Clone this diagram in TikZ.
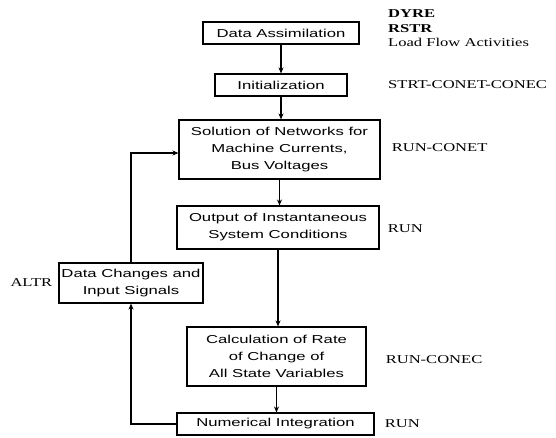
\documentclass[tikz,border=0pt]{standalone}
\usepackage{fontspec}
\setmainfont{Liberation Serif}
\newfontfamily\boxfont{Liberation Sans}[FakeStretch=1.45]
\newfontfamily\tagfont{Liberation Serif}[FakeStretch=1.38]
\usetikzlibrary{arrows.meta, positioning}

\begin{document}
\begin{tikzpicture}[
    x=1pt, y=-1pt,
    box/.style={draw, line width=1.1pt, inner sep=2pt, align=center, font=\boxfont\fontsize{11.5}{17}\selectfont},
    tag/.style={anchor=west, inner sep=0pt, align=left, font=\tagfont\fontsize{12}{14.5}\selectfont},
    arrow/.style={-{Stealth[length=6pt, width=5pt]}, line width=1.1pt}
]
    \fill[white] (0,0) rectangle (556,437);
    \useasboundingbox (0,0) rectangle (556,437);

    \node[box, minimum width=156pt, minimum height=22pt] (assim) at (281,33) {Data Assimilation};
    \node[box, minimum width=132pt, minimum height=22pt] (init) at (281,85) {Initialization};
    \node[box, minimum width=201pt, minimum height=59pt] (sol) at (279.5,149.5) {Solution of Networks for\\ Machine Currents,\\ Bus Voltages};
    \node[box, minimum width=202pt, minimum height=43pt] (out) at (278,227.5) {Output of Instantaneous\\ System Conditions};
    \node[box, minimum width=179pt, minimum height=59pt] (calc) at (276.5,356.5) {Calculation of Rate\\ of Change of\\ All State Variables};
    \node[box, minimum width=197pt, minimum height=22pt] (numint) at (275.5,424) {Numerical Integration};
    \node[box, minimum width=144pt, minimum height=40pt] (dchg) at (131,283) {Data Changes and\\ Input Signals};

    \node[tag] (dyre) at (388,28.5) {\textbf{DYRE}\\ \textbf{RSTR}\\ Load Flow Activities};
    \node[tag] (strt) at (388,85) {STRT-CONET-CONEC};
    \node[tag, right=11pt of sol, yshift=1.5pt] (runconet) {RUN-CONET};
    \node[tag, right=8pt of out, yshift=-1.5pt] (run1) {RUN};
    \node[tag, right=19pt of calc, yshift=-3.5pt] (runconec) {RUN-CONEC};
    \node[tag, right=10pt of numint] (run2) {RUN};
    \node[tag, left=6pt of dchg, anchor=east] (altr) {ALTR};

    \draw[arrow] (assim.south) -- (assim.south |- init.north);
    \draw[arrow] (init.south) -- (init.south |- sol.north);
    \draw[arrow] (sol.south) -- (sol.south |- out.north);
    \draw[arrow] (out.south) -- (out.south |- calc.north);
    \draw[arrow] (calc.south) -- (calc.south |- numint.north);

    \draw[arrow] (numint.west) -| (dchg.south);
    \draw[arrow] (dchg.north) |- ([yshift=-3.5pt]sol.west);
\end{tikzpicture}
\end{document}
